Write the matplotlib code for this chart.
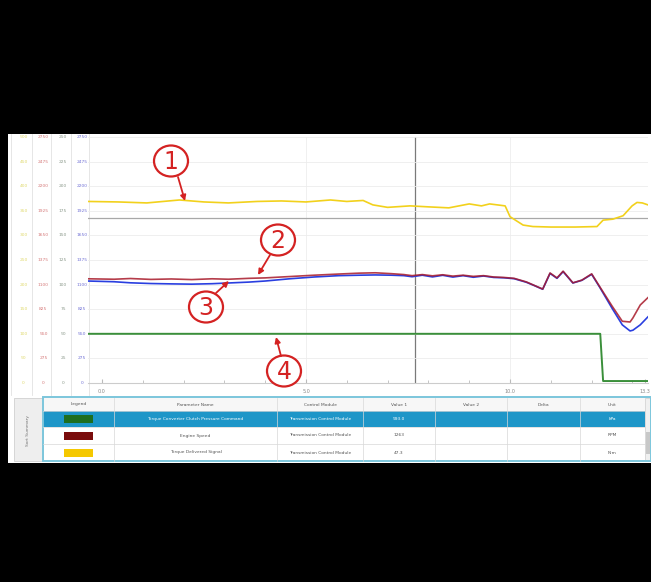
import matplotlib
matplotlib.use("Agg")
import matplotlib.pyplot as plt
from matplotlib.patches import Rectangle, Ellipse

# ---------------- data ----------------
yellow_t = [-0.34, 0.4, 1.1, 1.9, 2.5, 3.1, 3.8, 4.4, 5.0, 5.6, 6.0, 6.4, 6.64, 7.0, 7.55, 8.0, 8.5,
            9.0, 9.3, 9.5, 9.88, 10.0, 10.32, 10.56, 11.0, 11.6, 12.13, 12.28, 12.52, 12.77, 12.99,
            13.11, 13.24, 13.38]
yellow_v = [369, 368, 366, 372, 368, 366, 369, 370, 368, 372, 369, 371, 362, 357, 360, 358, 356,
            364, 360, 364, 360, 338, 321, 318, 317, 317, 318, 331, 333, 340, 360, 367, 366, 362]

speed_t = [-0.34, 0.3, 0.7, 1.2, 1.7, 2.2, 2.7, 3.1, 3.6, 4.0, 4.6, 5.2, 5.8, 6.3, 6.7, 7.1, 7.4,
           7.6, 7.85, 8.1, 8.35, 8.6, 8.85, 9.1, 9.35, 9.6, 9.85, 10.1, 10.4, 10.6, 10.8, 10.98,
           11.15, 11.3, 11.54, 11.76, 12.0, 12.2, 12.5, 12.75, 12.94, 13.01, 13.19, 13.38]
engine_v = [1165, 1160, 1168, 1158, 1163, 1156, 1165, 1160, 1170, 1175, 1190, 1205, 1218, 1228,
            1232, 1222, 1212, 1200, 1212, 1198, 1210, 1195, 1205, 1192, 1200, 1185, 1180, 1170,
            1130, 1090, 1050, 1230, 1175, 1250, 1120, 1150, 1220, 1075, 860, 690, 682, 727, 872, 955]
turbine_v = [1140, 1132, 1120, 1112, 1108, 1105, 1110, 1118, 1128, 1140, 1165, 1185, 1200, 1205,
             1208, 1205, 1200, 1188, 1205, 1186, 1204, 1184, 1200, 1182, 1196, 1180, 1176, 1166,
             1126, 1088, 1048, 1225, 1170, 1245, 1118, 1148, 1215, 1068, 835, 650, 582, 590, 650, 740]

tcc_t = [-0.34, 12.21, 12.28, 13.38]
tcc_v = [50, 50, 2, 2]

yellow_ticks = list(range(0, 501, 50))
red_ticks = list(range(0, 2751, 275))
green_ticks = list(range(0, 251, 25))
blue_ticks = list(range(0, 2751, 275))

x_ticks = [0, 5, 10, 13.3]
x_tick_labels = ['0.0', '5.0', '10.0', '13.3']
cursor_t = 7.67
ref_level = 1845

table_columns = ['Legend', 'Parameter Name', 'Control Module', 'Value 1', 'Value 2', 'Delta', 'Unit']
param_names = ['Torque Converter Clutch Pressure Command', 'Engine Speed', 'Torque Delivered Signal']
modules = ['Transmission Control Module'] * 3
value1 = ['993.0', '1263', '47.3']
value2 = ['', '', '']
delta = ['', '', '']
units = ['kPa', 'RPM', 'N·m']
swatches = ['#1f6e1f', '#7a0c0c', '#f5c800']

# ---------------- figure ----------------
W, H = 651, 582
fig = plt.figure(figsize=(W / 100, H / 100), dpi=100, facecolor='black')

bg = fig.add_axes([0, 0, 1, 1], zorder=0)
bg.set_xlim(0, W)
bg.set_ylim(H, 0)
bg.axis('off')
bg.add_patch(Rectangle((8, 134), W - 8, 329, facecolor='white', edgecolor='none'))

# plot area pixels
L, R, T, B = 88, 648, 137, 383
def fx(px):
    return px / W
def fy(py):
    return (H - py) / H

ax = fig.add_axes([fx(L), fy(B), fx(R - L), (B - T) / H], zorder=2)
ax.set_facecolor('none')
xlim = (-0.34, 13.38)
ax.set_xlim(*xlim)
ax.set_ylim(0, 2750)
ax.set_yticks(blue_ticks)
ax.yaxis.grid(True, color='#ececec', lw=0.6)
ax.tick_params(axis='y', length=0, labelleft=False)
for s in ['top', 'right', 'left']:
    ax.spines[s].set_visible(False)
ax.spines['bottom'].set_color('#cccccc')
ax.spines['bottom'].set_linewidth(0.8)
ax.set_xticks(x_ticks)
ax.set_xticklabels(x_tick_labels)
ax.set_xticks([i for i in range(0, 14)], minor=True)
ax.tick_params(axis='x', which='both', direction='in', color='#bbbbbb', labelsize=3.5,
               labelcolor='#888888', pad=4)
ax.tick_params(axis='x', which='major', length=3)
ax.tick_params(axis='x', which='minor', length=2)
for xv in [5, 10]:
    ax.axvline(xv, color='#eeeeee', lw=0.6, zorder=0)
ax.axhline(ref_level, color='#a8a8a8', lw=0.9, zorder=1)
ax.axvline(cursor_t, color='#7a7a7a', lw=0.9, zorder=1)

ax_y = ax.twinx()
ax_y.set_ylim(0, 500)
ax_g = ax.twinx()
ax_g.set_ylim(0, 250)
for a in (ax_y, ax_g):
    a.axis('off')
    a.set_xlim(*xlim)

ax_g.plot(tcc_t, tcc_v, color='#3a8f3a', lw=1.4, zorder=3)
ax_y.plot(yellow_t, yellow_v, color='#f2d11c', lw=1.2, zorder=3)
ax.plot(speed_t, turbine_v, color='#2a3fe0', lw=1.2, zorder=3)
ax.plot(speed_t, engine_v, color='#a81a2a', lw=1.2, alpha=0.85, zorder=4)

# left scale columns
col_specs = [
    (11, 32, yellow_ticks, (0, 500), '#e0da70'),
    (32, 51, red_ticks, (0, 2750), '#d67a7a'),
    (51, 71, green_ticks, (0, 250), '#8c9a8c'),
    (71, 89, blue_ticks, (0, 2750), '#7272d6'),
]
for x0, x1, ticks, lim, colr in col_specs:
    ca = fig.add_axes([fx(x0), fy(B), fx(x1 - x0), (B - T) / H], zorder=1)
    ca.set_xlim(0, 1)
    ca.set_ylim(*lim)
    ca.axis('off')
    for tv in ticks:
        ca.text(0.6, tv, str(tv), ha='center', va='center', fontsize=3.2, color=colr)
for xs in [11, 32, 51, 71, 89]:
    bg.plot([xs, xs], [134, 395], color='#e2e2e2', lw=0.6)

# ---------------- table ----------------
col_edges = [43, 114, 277, 363, 435, 507, 580, 645]
row_edges = [398, 411, 427, 444, 461]
# left tab
bg.add_patch(Rectangle((14, 398), 29, 63, facecolor='#eeeeee', edgecolor='#d0d0d0', lw=0.6))
bg.text(28, 430, 'Sort Summary', rotation=90, ha='center', va='center', fontsize=3.2, color='#777777')
# header
bg.add_patch(Rectangle((43, 398), 602, 13, facecolor='#f7f7f7', edgecolor='none'))
# highlighted row
bg.add_patch(Rectangle((43, 411), 602, 16, facecolor='#1e96c8', edgecolor='none'))
for i, name in enumerate(table_columns):
    cx = (col_edges[i] + col_edges[i + 1]) / 2
    bg.text(cx, 404.5, name, ha='center', va='center', fontsize=3.2, color='#555555')
rows = list(zip(param_names, modules, value1, value2, delta, units))
for r, cells in enumerate(rows):
    cy = (row_edges[r + 1] + row_edges[r + 2]) / 2
    tc = 'white' if r == 0 else '#555555'
    bg.add_patch(Rectangle((64, cy - 4), 29, 8, facecolor=swatches[r], edgecolor='none'))
    for j, txt in enumerate(cells):
        cx = (col_edges[j + 1] + col_edges[j + 2]) / 2
        bg.text(cx, cy, txt, ha='center', va='center', fontsize=3.2, color=tc)
for ye in row_edges[1:-1]:
    bg.plot([43, 645], [ye, ye], color='#d8d8d8', lw=0.5)
for xe in col_edges[1:-1]:
    bg.plot([xe, xe], [398, 461], color='#d8d8d8', lw=0.5)
# scrollbar
bg.add_patch(Rectangle((645, 398), 6, 63, facecolor='#f0f0f0', edgecolor='#cccccc', lw=0.5))
bg.add_patch(Rectangle((646, 432), 4, 22, facecolor='#c8c8c8', edgecolor='none'))
# table border
bg.add_patch(Rectangle((43, 397), 608, 64, facecolor='none', edgecolor='#7cc6dc', lw=1.4))

# ---------------- annotations ----------------
ov = fig.add_axes([0, 0, 1, 1], zorder=5)
ov.set_xlim(0, W)
ov.set_ylim(H, 0)
ov.axis('off')
ov.set_facecolor('none')
red = '#d42222'
marks = [('1', (171, 161), (178, 177), (185, 201)),
         ('2', (278, 240), (270, 255), (258, 275)),
         ('3', (206, 307), (216, 293), (229, 281)),
         ('4', (284, 371), (281, 356), (276, 337))]
for lab, (cx, cy), p0, p1 in marks:
    ov.add_patch(Ellipse((cx, cy), 34, 31, facecolor='white', edgecolor=red, lw=1.6))
    ov.text(cx, cy + 1, lab, ha='center', va='center', fontsize=17, color=red)
    ov.annotate('', xy=p1, xytext=p0,
                arrowprops=dict(arrowstyle='-|>', color=red, lw=1.3, mutation_scale=8,
                                shrinkA=0, shrinkB=0))

fig.savefig('out.png', dpi=100, facecolor='black')
